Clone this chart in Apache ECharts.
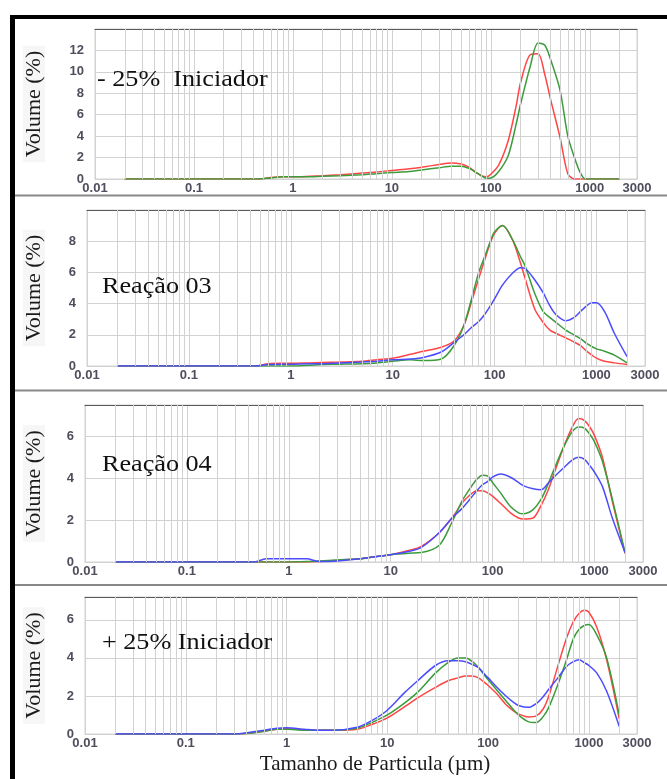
<!DOCTYPE html>
<html>
<head>
<meta charset="utf-8">
<script src="https://cdn.jsdelivr.net/npm/echarts@6/dist/echarts.min.js"></script>
<style>
  html, body { margin: 0; padding: 0; background: #fff; }
  #chart { width: 667px; height: 779px; }
</style>
</head>
<body>
<div id="chart"></div>
<script>
// particle size classes (µm), shared by every curve
const sizes = [0.02, 0.1, 0.3, 0.45, 0.6, 0.8, 1, 1.5, 2, 3, 5, 7, 10, 15, 20, 30, 40, 50, 60, 70,
  80, 90, 100, 120, 150, 180, 200, 250, 300, 350, 400, 500, 600, 700, 800, 900, 1000, 1200, 1500, 2000];

// - 25% Iniciador
const p1Red = [0, 0, 0, 0, 0.15, 0.2, 0.2, 0.25, 0.3, 0.4, 0.55, 0.65, 0.8, 0.95, 1.1, 1.35, 1.5, 1.4, 1.1, 0.65,
  0.3, 0.2, 0.45, 1.3, 3.6, 6.8, 9.0, 11.6, 11.7, 9.8, 7.5, 3.9, 0.5, 0, 0, 0, 0, 0, 0, 0];
const p1Green = [0, 0, 0, 0, 0.1, 0.2, 0.2, 0.2, 0.25, 0.3, 0.4, 0.5, 0.6, 0.7, 0.85, 1.05, 1.2, 1.2, 1.0, 0.65,
  0.3, 0.08, 0.1, 0.7, 2.2, 5.1, 7.0, 10.5, 12.7, 12.5, 11.2, 8.3, 4.0, 2.0, 0.6, 0, 0, 0, 0, 0];

// Reação 03
const p2Red = [0, 0, 0, 0, 0.15, 0.18, 0.18, 0.2, 0.22, 0.25, 0.3, 0.4, 0.5, 0.75, 0.95, 1.2, 1.6, 2.6, 4.2, 5.6,
  6.8, 7.8, 8.5, 9.0, 8.1, 6.6, 5.6, 3.6, 2.8, 2.3, 2.1, 1.8, 1.55, 1.3, 0.95, 0.7, 0.5, 0.3, 0.2, 0.1];
const p2Green = [0, 0, 0, 0, 0, 0, 0, 0.05, 0.1, 0.12, 0.15, 0.2, 0.3, 0.4, 0.35, 0.45, 1.3, 2.6, 4.4, 6.0,
  7.0, 7.9, 8.6, 9.0, 8.1, 7.0, 6.4, 4.6, 3.5, 3.1, 2.8, 2.3, 2.0, 1.75, 1.45, 1.25, 1.1, 0.95, 0.7, 0.2];
const p2Blue = [0, 0, 0, 0, 0.1, 0.12, 0.12, 0.15, 0.15, 0.2, 0.25, 0.3, 0.4, 0.45, 0.55, 0.9, 1.5, 2.0, 2.5, 2.85,
  3.3, 3.8, 4.3, 5.2, 5.95, 6.3, 6.25, 5.5, 4.7, 3.85, 3.3, 2.9, 3.1, 3.5, 3.85, 4.05, 4.05, 3.5, 2.1, 0.6];

// Reação 04
const p3Red = [0, 0, 0, 0, 0, 0, 0, 0, 0.02, 0.08, 0.15, 0.25, 0.35, 0.55, 0.75, 1.4, 2.1, 2.8, 3.2, 3.4,
  3.4, 3.3, 3.15, 2.8, 2.35, 2.1, 2.05, 2.1, 2.7, 3.4, 4.2, 5.5, 6.4, 6.85, 6.75, 6.45, 6.05, 5.0, 2.9, 0.4];
const p3Green = [0, 0, 0, 0, 0, 0, 0, 0.02, 0.05, 0.1, 0.15, 0.25, 0.35, 0.42, 0.45, 0.8, 1.9, 2.9, 3.5, 3.95,
  4.15, 4.1, 3.8, 3.3, 2.65, 2.35, 2.3, 2.5, 3.0, 3.7, 4.4, 5.5, 6.2, 6.45, 6.4, 6.1, 5.75, 4.8, 3.0, 0.45];
const p3Blue = [0, 0, 0, 0, 0.15, 0.15, 0.15, 0.15, 0.02, 0.05, 0.15, 0.25, 0.35, 0.5, 0.7, 1.4, 2.1, 2.55, 3.0, 3.4,
  3.7, 3.85, 4.05, 4.2, 4.05, 3.8, 3.65, 3.5, 3.45, 3.75, 4.05, 4.5, 4.85, 5.0, 4.9, 4.6, 4.3, 3.6, 2.1, 0.45];

// + 25% Iniciador
const p4Red = [0, 0, 0, 0.05, 0.15, 0.25, 0.28, 0.22, 0.2, 0.2, 0.25, 0.5, 0.85, 1.45, 1.9, 2.45, 2.8, 2.95, 3.05, 3.05,
  2.95, 2.75, 2.55, 2.15, 1.55, 1.2, 1.05, 0.9, 0.95, 1.3, 2.0, 3.7, 5.05, 5.9, 6.35, 6.5, 6.4, 5.6, 3.9, 0.8];
const p4Green = [0, 0, 0, 0.05, 0.15, 0.25, 0.25, 0.2, 0.2, 0.2, 0.3, 0.6, 1.0, 1.65, 2.2, 3.2, 3.75, 4.0, 4.0, 3.8,
  3.5, 3.15, 2.85, 2.35, 1.75, 1.25, 1.0, 0.65, 0.6, 0.9, 1.4, 2.7, 3.9, 5.0, 5.5, 5.7, 5.75, 5.2, 4.0, 1.0];
const p4Blue = [0, 0, 0, 0.1, 0.2, 0.3, 0.33, 0.25, 0.2, 0.2, 0.35, 0.7, 1.25, 2.2, 2.8, 3.6, 3.85, 3.85, 3.8, 3.65,
  3.5, 3.2, 2.95, 2.5, 2.0, 1.65, 1.5, 1.4, 1.6, 1.95, 2.35, 3.0, 3.55, 3.8, 3.9, 3.75, 3.6, 3.2, 2.25, 0.4];

const X_MIN = 0.01, X_MAX = 3000;
const COLORS = { red: '#ff4646', green: '#3c9c3c', blue: '#4c4cff' };
const GRID_COLOR = '#d2d2d2';
const TICK_FONT = { fontFamily: '"Liberation Sans", Arial, sans-serif', fontWeight: 'bold', fontSize: 13, color: '#4e4e5c' };
const SERIF = '"Liberation Serif", "Times New Roman", serif';

// minor log gridlines at 2..9 of each decade
const minorTicks = [];
for (let e = -2; e <= 3; e++) {
  for (let m = 2; m <= 9; m++) {
    const v = +(m * Math.pow(10, e)).toPrecision(3);
    if (v < X_MAX) minorTicks.push(v);
  }
}

const panels = [
  { text: '- 25%  Iniciador', yMax: 14, box: [95, 29, 542, 150], nameGap: 50, textX: 97, textY: 80,
    lines: [['red', p1Red], ['green', p1Green]] },
  { text: 'Reação 03', yMax: 10, box: [87, 210, 558, 156], nameGap: 42, textX: 102, textY: 287,
    lines: [['red', p2Red], ['green', p2Green], ['blue', p2Blue]] },
  { text: 'Reação 04', yMax: 7.5, box: [85, 405, 558, 157], nameGap: 40, textX: 102, textY: 465,
    lines: [['red', p3Red], ['green', p3Green], ['blue', p3Blue]] },
  { text: '+ 25% Iniciador', yMax: 7.2, box: [85, 597, 552, 137], nameGap: 40, textX: 102, textY: 643,
    lines: [['red', p4Red], ['green', p4Green], ['blue', p4Blue]] }
];

const grid = [], xAxis = [], yAxis = [], series = [], graphic = [];

panels.forEach((p, i) => {
  const [left, top, width, height] = p.box;
  grid.push({ left, top, width, height, show: true, borderColor: GRID_COLOR, borderWidth: 1 });

  const last = i === panels.length - 1;
  xAxis.push({
    type: 'log', logBase: 10, gridIndex: i, min: X_MIN, max: X_MAX,
    axisLine: { show: true, lineStyle: { color: GRID_COLOR } },
    axisTick: { show: false },
    axisLabel: Object.assign({ margin: 3, formatter: v => String(+v.toPrecision(6)) }, TICK_FONT),
    splitLine: { show: true, lineStyle: { color: GRID_COLOR, width: 1 } },
    name: last ? 'Tamanho de Particula (µm)' : '',
    nameLocation: 'middle', nameGap: 20,
    nameTextStyle: { fontFamily: SERIF, fontSize: 21, color: '#1a1a1a', padding: [0, 0, 0, 28] }
  });
  // dark frame line along the top of each plot
  xAxis.push({
    type: 'value', gridIndex: i, position: 'top', min: 0, max: 1,
    axisLine: { show: true, lineStyle: { color: '#5a5a5a', width: 1 } },
    axisTick: { show: false }, axisLabel: { show: false }, splitLine: { show: false }
  });
  yAxis.push({
    type: 'value', gridIndex: i, min: 0, max: p.yMax, interval: 2,
    axisLine: { show: true, lineStyle: { color: GRID_COLOR } },
    axisTick: { show: false },
    axisLabel: Object.assign({ margin: 11, showMaxLabel: false }, TICK_FONT),
    splitLine: { show: true, lineStyle: { color: GRID_COLOR, width: 1 } },
    name: 'Volume (%)', nameLocation: 'middle', nameGap: p.nameGap,
    nameTextStyle: { fontFamily: SERIF, fontSize: 22, color: '#1a1a1a', backgroundColor: '#f6f6f6', padding: [0, 5] }
  });

  series.push({
    type: 'line', xAxisIndex: i * 2, yAxisIndex: i, data: [], z: 1, silent: true,
    markLine: {
      silent: true, symbol: 'none', animation: false, label: { show: false },
      lineStyle: { color: GRID_COLOR, width: 1, type: 'solid' },
      emphasis: { disabled: true },
      data: minorTicks.map(v => ({ xAxis: v }))
    }
  });
  p.lines.forEach(([c, vals]) => {
    series.push({
      type: 'line', xAxisIndex: i * 2, yAxisIndex: i, z: 3,
      data: sizes.map((s, k) => [s, vals[k]]),
      smooth: 0.3, showSymbol: false, symbol: 'none',
      lineStyle: { color: COLORS[c], width: 1.5 },
      itemStyle: { color: COLORS[c] }
    });
  });

  graphic.push({
    type: 'text', x: p.textX, y: p.textY, scaleX: 1.09, z: 10,
    style: { text: p.text, font: '24px ' + SERIF, fill: '#111', align: 'left', verticalAlign: 'middle' }
  });
});

// outer frame and panel separators
graphic.push(
  { type: 'rect', shape: { x: 10, y: 15, width: 657, height: 4 }, style: { fill: '#000' } },
  { type: 'rect', shape: { x: 10, y: 15, width: 5, height: 764 }, style: { fill: '#000' } },
  { type: 'rect', shape: { x: 15, y: 194.5, width: 652, height: 2 }, style: { fill: '#888' } },
  { type: 'rect', shape: { x: 15, y: 389.5, width: 652, height: 2 }, style: { fill: '#888' } },
  { type: 'rect', shape: { x: 15, y: 584, width: 652, height: 2 }, style: { fill: '#888' } }
);

const chart = echarts.init(document.getElementById('chart'));
chart.setOption({
  animation: false,
  backgroundColor: '#fff',
  grid, xAxis, yAxis, series, graphic
});
</script>
</body>
</html>
